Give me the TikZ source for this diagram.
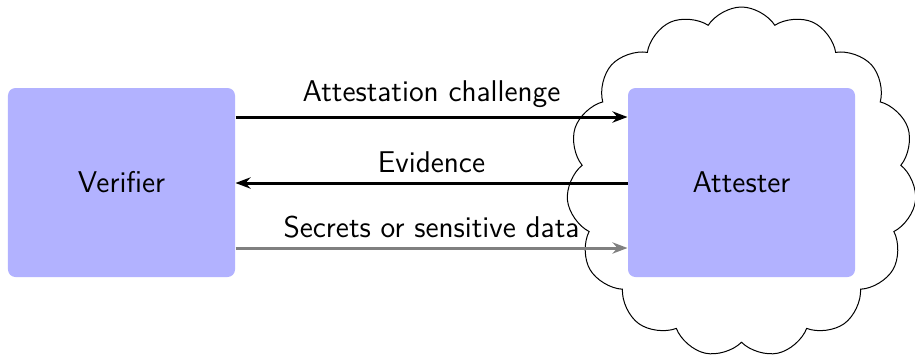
\documentclass[tikz,border=0pt]{standalone}
\usetikzlibrary{arrows.meta,shapes.symbols}
\begin{document}
\begin{tikzpicture}[x=0.4pt,y=-0.4pt,
  font=\sffamily\fontsize{12}{14.5}\selectfont,
  party/.style={fill=blue!30, rounded corners=3pt, inner sep=0pt,
    minimum width=90.8pt, minimum height=75.6pt},
  msg/.style={line width=1.2pt, -{Stealth[length=6pt,width=4.5pt]}},
  lab/.style={midway, above}]
\useasboundingbox (0,0) rectangle (915,355);
% trusted environment around the attester
\node[cloud, cloud puffs=15, cloud puff arc=115, aspect=1, draw, line width=0.4pt,
  inner sep=0pt, minimum width=140pt, minimum height=140pt] (env) at (741.5,182) {};
% the two parties
\node[party] (ver) at (121.5,182.5) {Verifier};
\node[party] (att) at (741.5,182.5) {Attester};
% messages between them
\draw[msg] (ver.east |- 0,117) -- (att.west |- 0,117)
  node[lab] (l1) {Attestation challenge};
\draw[msg] (att.west |- 0,183) -- (ver.east |- 0,183)
  node[lab] (l2) {Evidence};
\draw[msg, gray] (ver.east |- 0,248) -- (att.west |- 0,248)
  node[lab, black] (l3) {Secrets or sensitive data};
\end{tikzpicture}
\end{document}
